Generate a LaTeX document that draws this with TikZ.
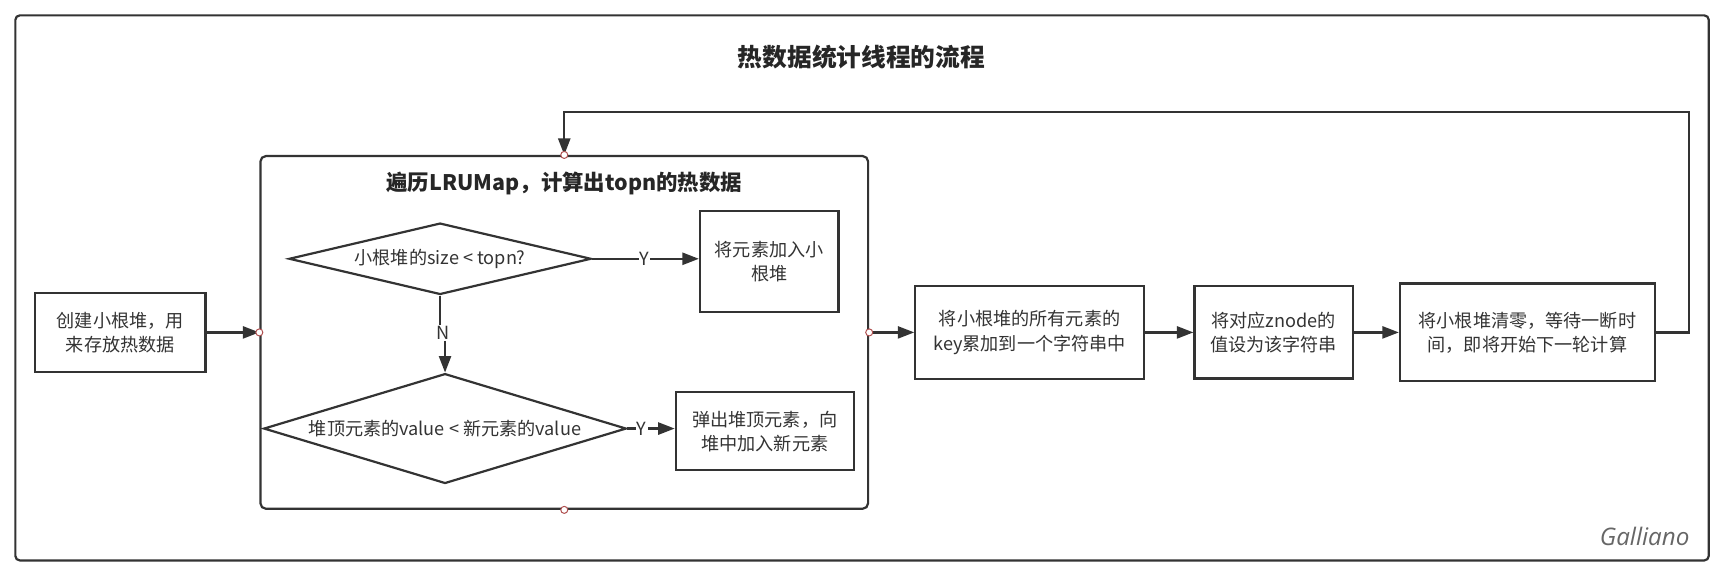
\documentclass[tikz,border=0pt]{standalone}
\usepackage{fontspec}
\setmainfont{Noto Sans CJK SC}
\newfontfamily\signfont{Open Sans}
\usetikzlibrary{arrows.meta,shapes.geometric}
\definecolor{ln}{HTML}{333333}
\definecolor{txt}{HTML}{333333}
\definecolor{port}{HTML}{B05050}
\newcommand\bxfont{\fontsize{16.5}{22}\selectfont}
\begin{document}
\begin{tikzpicture}[x=1pt,y=-1pt,
  box/.style={draw=ln,line width=2pt,rectangle,inner sep=0pt,align=center,text=txt,font=\bxfont},
  dia/.style={draw=ln,line width=2pt,diamond,inner sep=0pt,align=center,text=txt,font=\bxfont},
  conn/.style={draw=ln,line width=2pt},
  arr/.style={conn,-{Triangle[length=15pt,width=11pt]}},
  lbl/.style={fill=white,inner sep=1pt,text=txt,font=\bxfont},
  portc/.style={draw=port,fill=white,line width=0.9pt}]
\useasboundingbox (0,0) rectangle (1568,522.4);
% outer frame
\draw[draw=ln,line width=2pt,rounded corners=4pt] (14,14) rectangle (1555,510);
\node[font=\fontsize{22.5}{26}\selectfont\bfseries,text=black!85] (title) at (784,52) {热数据统计线程的流程};
\node[anchor=base east,font=\signfont\itshape\fontsize{22}{26}\selectfont,text=black!60] (sign) at (1541,496) {Galliano};

% start box
\node[box,minimum width=155pt,minimum height=72pt] (A) at (109.5,302.5) {创建小根堆，用\\来存放热数据};

% loop container
\node[draw=ln,line width=2pt,rounded corners=5pt,rectangle,minimum width=553pt,minimum height=321pt,inner sep=0pt] (loop) at (513.5,302.5) {};
\node[font=\fontsize{19.5}{24}\selectfont\bfseries,text=black!85] (ltitle) at (513.5,167) {遍历LRUMap，计算出topn的热数据};

\node[dia,minimum width=275pt,minimum height=65pt,aspect=4.23] (d1) at (400.5,235.5) {小根堆的size < topn?};
\node[box,minimum width=126pt,minimum height=92pt] (B) at (700,238) {将元素加入小\\根堆};
\node[dia,minimum width=330pt,minimum height=100pt,aspect=3.3] (d2) at (405,390) {堆顶元素的value < 新元素的value};
\node[box,minimum width=162pt,minimum height=71pt] (C) at (696,392.5) {弹出堆顶元素，向\\堆中加入新元素};

% right chain
\node[box,minimum width=208pt,minimum height=85pt] (D) at (937,302.5) {将小根堆的所有元素的\\key累加到一个字符串中};
\node[box,minimum width=144pt,minimum height=84pt] (E) at (1159,302.5) {将对应znode的\\值设为该字符串};
\node[box,minimum width=232pt,minimum height=89pt] (F) at (1390,302.5) {将小根堆清零，等待一断时\\间，即将开始下一轮计算};

% connectors
\draw[arr] (d1.east) -- (d1.east -| B.west) node[lbl,pos=0.49] (y1) {Y};
\node[lbl] (n1) at (403,303) {N};
\draw[conn] (d1.south) -- (d1.south |- n1.north);
\draw[arr] (d2.north |- n1.south) -- (d2.north);
\draw[arr] (d2.east) -- (d2.east -| C.west) node[lbl,pos=0.3] (y2) {Y};

\draw[arr] (A.east) -- (loop.west);
\draw[arr] (loop.east) -- (D.west);
\draw[arr] (D.east) -- (E.west);
\draw[arr] (E.east) -- (F.west);
\coordinate (fb) at (1537,102);
\draw[arr] (F.east) -| (fb) -- (fb -| loop.north) -- (loop.north);

% ports
\foreach \a in {north,south,east,west} \draw[portc] (loop.\a) circle (3.2pt);
\end{tikzpicture}
\end{document}
